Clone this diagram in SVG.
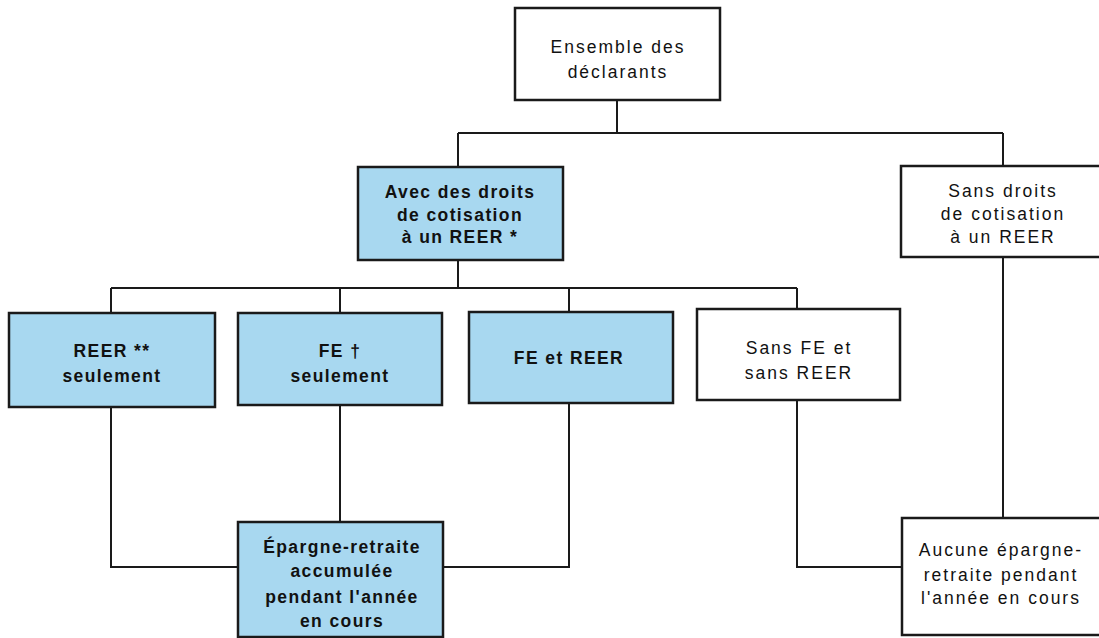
<svg xmlns="http://www.w3.org/2000/svg" width="1099" height="638" viewBox="0 0 1099 638">
<style>
.box{stroke:#1a1a1a;stroke-width:2.5;}
.w{fill:#ffffff;}
.b{fill:#a8d8f0;}
.t{font-family:"Liberation Sans",Arial,sans-serif;font-size:17.5px;letter-spacing:2px;fill:#111;text-anchor:middle;}
.tb{font-weight:bold;letter-spacing:1.4px;}
.c{fill:none;stroke:#1a1a1a;stroke-width:2;}
</style>
<rect width="1099" height="638" fill="#ffffff"/>
<g id="connectors">
<path class="c" d="M617,100 V133 M458,133 H1003 M458,133 V167 M1003,133 V166"/>
<path class="c" d="M458,260 V288 M111,288 H797 M111,288 V313 M340,288 V313 M569,288 V312 M797,288 V309"/>
<path class="c" d="M111,407 V567 H238 M340,405 V522 M569,403 V567 H443"/>
<path class="c" d="M797,400 V567 H902 M1003,257 V518"/>
</g>
<g id="n_ensemble">
<rect class="box w" x="515" y="8" width="205" height="92"/>
<text class="t" x="618" y="53">Ensemble des</text>
<text class="t" x="618" y="78">déclarants</text>
</g>
<g id="n_avec">
<rect class="box b" x="358" y="167" width="205" height="93"/>
<text class="t tb" x="460" y="198">Avec des droits</text>
<text class="t tb" x="460" y="221">de cotisation</text>
<text class="t tb" x="460" y="243">à un REER *</text>
</g>
<g id="n_sans_droits">
<rect class="box w" x="901" y="166" width="210" height="91"/>
<text class="t" x="1003" y="197">Sans droits</text>
<text class="t" x="1003" y="220">de cotisation</text>
<text class="t" x="1003" y="243">à un REER</text>
</g>
<g id="n_reer">
<rect class="box b" x="9" y="313" width="206" height="94"/>
<text class="t tb" x="112" y="357">REER **</text>
<text class="t tb" x="112" y="382">seulement</text>
</g>
<g id="n_fe">
<rect class="box b" x="238" y="313" width="204" height="92"/>
<text class="t tb" x="340" y="357">FE †</text>
<text class="t tb" x="340" y="382">seulement</text>
</g>
<g id="n_fe_reer">
<rect class="box b" x="469" y="312" width="204" height="91"/>
<text class="t tb" x="569" y="364">FE et REER</text>
</g>
<g id="n_sans_fe">
<rect class="box w" x="697" y="309" width="203" height="91"/>
<text class="t" x="799" y="354">Sans FE et</text>
<text class="t" x="799" y="379">sans REER</text>
</g>
<g id="n_epargne">
<rect class="box b" x="238" y="522" width="205" height="115"/>
<text class="t tb" x="342" y="553">Épargne-retraite</text>
<text class="t tb" x="342" y="577">accumulée</text>
<text class="t tb" x="342" y="603">pendant l'année</text>
<text class="t tb" x="342" y="627">en cours</text>
</g>
<g id="n_aucune">
<rect class="box w" x="902" y="518" width="210" height="117"/>
<text class="t" x="1001" y="556">Aucune épargne-</text>
<text class="t" x="1001" y="581">retraite pendant</text>
<text class="t" x="1001" y="604">l'année en cours</text>
</g>
</svg>
